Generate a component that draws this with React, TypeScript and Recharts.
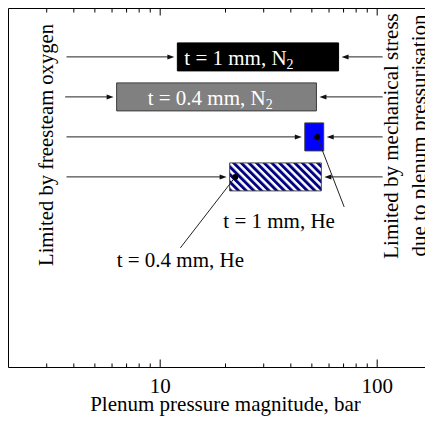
import {
  ComposedChart,
  Bar,
  Cell,
  XAxis,
  YAxis,
  ReferenceLine,
  ReferenceDot,
  LabelList,
  Label,
} from "recharts";

// one row per configuration, top to bottom
const rows = ["t = 1 mm, N2", "t = 0.4 mm, N2", "t = 1 mm, He", "t = 0.4 mm, He"];
const lowPressure = [12, 6.3, 46.4, 20.9];
const highPressure = [66.4, 52.5, 56.7, 55.3];
// single-point results for the He runs
const pointPressure = [null, null, 52.9, 22.2];
// where the limit arrows start
const oxygenLimit = [3.7, 3.65, 3.7, 3.7];
const stressLimit = [106, 106, 106, 106];

const xDomain = [2, 200];
const xTicks = [3, 4, 5, 6, 7, 8, 9, 10, 20, 30, 40, 50, 60, 70, 80, 90, 100];
const xTickLabels = [10, 100];

const FONT = "'Liberation Serif', 'Times New Roman', serif";
const FILLS = ["#000000", "#808080", "#0000ff", "url(#hatch)"];
const STROKES = ["#000000", "#3c3c3c", "#3c3c3c", "#4a4a4a"];
const PLOT_H = 359;

const data = rows.map((name, i) => ({ name, range: [lowPressure[i], highPressure[i]] }));

function Subscripted({ text, size }: { text: string; size: number }) {
  // trailing "2" of N2 drawn as subscript
  if (text.endsWith("N2")) {
    return (
      <>
        {text.slice(0, -1)}
        <tspan dy={4} fontSize={size * 0.66}>
          2
        </tspan>
      </>
    );
  }
  return <>{text}</>;
}

// inward ticks on the bottom axis, mirrored on the top edge of the frame
const FrameTick = (props: any) => {
  const { x, y, payload } = props;
  const major = xTickLabels.includes(payload.value);
  const top = y - PLOT_H;
  return (
    <g>
      <line x1={x} x2={x} y1={y} y2={y - (major ? 8 : 4)} stroke="#000" />
      <line x1={x} x2={x} y1={top} y2={top + (major ? 7 : 4)} stroke="#000" />
      {major && (
        <text x={x} y={y + 25.5} textAnchor="middle" fontSize={21} fontFamily={FONT} fill="#000">
          {payload.value}
        </text>
      )}
    </g>
  );
};

// axis caption plus the top edge of the frame
const AxisCaption = (p: any) => {
  const { x, y, width } = p.viewBox;
  return (
    <g>
      <line x1={x} x2={x + width} y1={y - PLOT_H} y2={y - PLOT_H} stroke="#000" />
      <text
        x={x + width / 2}
        y={y + 43.2}
        textAnchor="middle"
        fontSize={21}
        fontFamily={FONT}
        fill="#000"
      >
        Plenum pressure magnitude, bar
      </text>
    </g>
  );
};

const Arrow = (props: any) => {
  const { x1, y1, x2, y2 } = props;
  const dir = x2 > x1 ? 1 : -1;
  const tip = x2 - dir * 3;
  return (
    <g>
      <line x1={x1} y1={y1} x2={tip - dir * 5} y2={y2} stroke="#222" strokeWidth={1} />
      <polygon
        points={`${tip},${y2} ${tip - dir * 7},${y2 - 2.5} ${tip - dir * 7},${y2 + 2.5}`}
        fill="#111"
      />
    </g>
  );
};

const InsideLabel = (props: any) => {
  const { x, y, height, value, index } = props;
  if (index > 1) return null;
  const shift = [7, 31][index];
  return (
    <text x={x + shift} y={y + height / 2 + 8.5} fill="#fff" fontSize={21} fontFamily={FONT}>
      <Subscripted text={value} size={21} />
    </text>
  );
};

// leader line end and caption position, relative to the dot
const callouts: Record<number, { line: [number, number]; text: [number, number] }> = {
  2: { line: [27, 70], text: [-38, 91] },
  3: { line: [-55, 71], text: [-55, 90] },
};

const makeDot = (i: number) => (props: any) => {
  const { cx, cy } = props;
  const c = callouts[i];
  return (
    <g>
      <line x1={cx} y1={cy} x2={cx + c.line[0]} y2={cy + c.line[1]} stroke="#222" />
      <circle cx={cx} cy={cy} r={3} fill="#000" />
      <text
        x={cx + c.text[0]}
        y={cy + c.text[1]}
        textAnchor="middle"
        fontSize={21}
        fontFamily={FONT}
        fill="#000"
      >
        {rows[i]}
      </text>
    </g>
  );
};

export default function App() {
  return (
    <div style={{ width: 425, height: 408, overflow: "hidden", fontFamily: FONT }}>
      <ComposedChart
        width={436}
        height={408}
        data={data}
        layout="vertical"
        margin={{ top: 0.5, right: 1.5, bottom: 0.5, left: 0 }}
      >
        <defs>
          <pattern
            id="hatch"
            width={5.4}
            height={5.4}
            patternUnits="userSpaceOnUse"
            patternTransform="rotate(-45)"
          >
            <rect width={5.4} height={5.4} fill="#ffffff" />
            <rect width={2.9} height={5.4} fill="#000080" />
          </pattern>
        </defs>
        <XAxis
          type="number"
          scale="log"
          domain={xDomain}
          allowDataOverflow
          ticks={xTicks}
          interval={0}
          tick={FrameTick}
          tickLine={false}
          tickSize={0}
          tickMargin={0}
          height={48}
          axisLine={{ stroke: "#000" }}
        >
          <Label content={AxisCaption} />
        </XAxis>
        <YAxis
          type="category"
          dataKey="name"
          width={0.5}
          tick={false}
          tickLine={false}
          axisLine={{ stroke: "#000" }}
          padding={{ top: 28.4, bottom: 170.6 }}
        />
        <Bar dataKey="range" barSize={28} isAnimationActive={false}>
          {data.map((d, i) => (
            <Cell key={d.name} fill={FILLS[i]} stroke={STROKES[i]} strokeWidth={1} />
          ))}
          <LabelList dataKey="name" content={InsideLabel} />
        </Bar>
        {rows.map((r, i) => (
          <ReferenceLine
            key={"o" + i}
            segment={[
              { x: oxygenLimit[i], y: r },
              { x: lowPressure[i], y: r },
            ]}
            shape={Arrow}
            ifOverflow="visible"
          />
        ))}
        {rows.map((r, i) => (
          <ReferenceLine
            key={"s" + i}
            segment={[
              { x: stressLimit[i], y: r },
              { x: highPressure[i], y: r },
            ]}
            shape={Arrow}
            ifOverflow="visible"
          />
        ))}
        {rows.map((r, i) =>
          pointPressure[i] == null ? null : (
            <ReferenceDot
              key={"d" + i}
              x={pointPressure[i] as number}
              y={r}
              shape={makeDot(i)}
              ifOverflow="visible"
            />
          )
        )}
        <text
          transform="translate(45,137) rotate(-90)"
          textAnchor="middle"
          fontSize={20.6}
          fontFamily={FONT}
          fill="#000"
        >
          Limited by freesteam oxygen
        </text>
        <text
          transform="translate(390,128) rotate(-90)"
          textAnchor="middle"
          fontSize={21}
          fontFamily={FONT}
          fill="#000"
        >
          Limited by mechanical stress
        </text>
        <text
          transform="translate(418,127.5) rotate(-90)"
          textAnchor="middle"
          fontSize={21}
          fontFamily={FONT}
          fill="#000"
        >
          due to plenum pressurisation
        </text>
      </ComposedChart>
    </div>
  );
}
